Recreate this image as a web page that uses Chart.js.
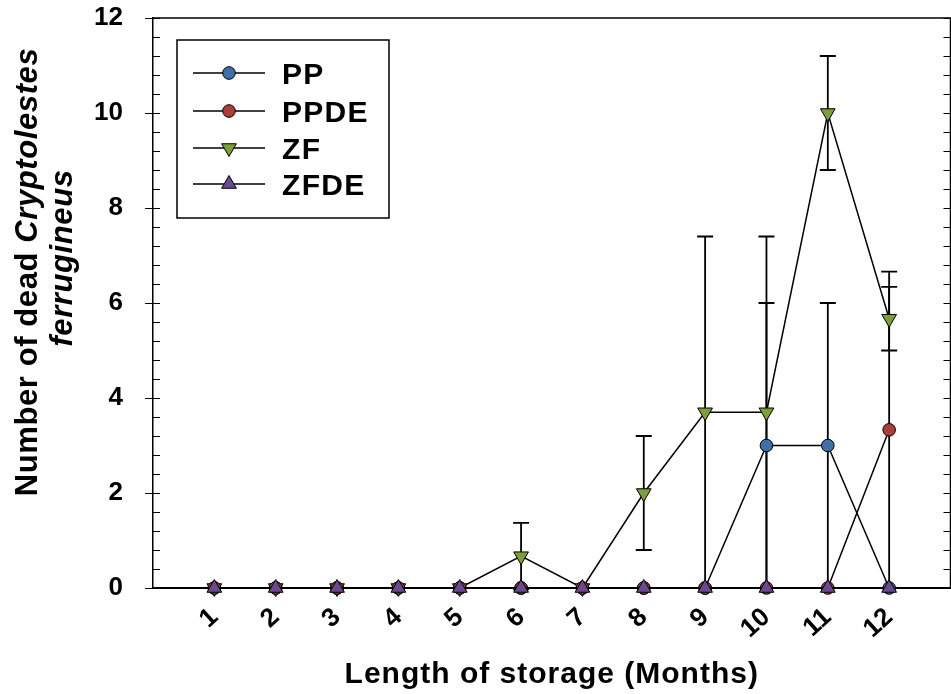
<!DOCTYPE html>
<html>
<head>
<meta charset="utf-8">
<script src="https://cdn.jsdelivr.net/npm/chart.js@4/dist/chart.umd.min.js"></script>
<style>
  html, body { margin: 0; padding: 0; background: #fff; overflow: hidden; }
  #wrap { position: relative; width: 960px; height: 694px; }
</style>
</head>
<body>
<div id="wrap"><canvas id="chart"></canvas></div>
<script>
// months of storage and mean dead insects (+/- error)
const months = [1, 2, 3, 4, 5, 6, 7, 8, 9, 10, 11, 12];
const ppMeans = [0, 0, 0, 0, 0, 0, 0, 0, 0, 3, 3, 0];
const ppErr = [0, 0, 0, 0, 0, 0, 0, 0, 0, 3, 3, 0];
const ppdeMeans = [0, 0, 0, 0, 0, 0, 0, 0, 0, 0, 0, 3.33];
const ppdeErr = [0, 0, 0, 0, 0, 0, 0, 0, 0, 0, 0, 3.33];
const zfMeans = [0, 0, 0, 0, 0, 0.67, 0, 2, 3.7, 3.7, 10, 5.67];
const zfErr = [0, 0, 0, 0, 0, 0.7, 0, 1.2, 3.7, 3.7, 1.2, 0.67];
const zfdeMeans = [0, 0, 0, 0, 0, 0, 0, 0, 0, 0, 0, 0];
const zfdeErr = [0, 0, 0, 0, 0, 0, 0, 0, 0, 0, 0, 0];
const yTicks = [0, 2, 4, 6, 8, 10, 12];

const FONT = "'Liberation Sans', Arial, sans-serif";

function series(label, means, errs, color, style, rot, order) {
    return {
        label: label,
        data: months.map((m, i) => ({ x: m, y: means[i] })),
        errors: errs,
        borderColor: '#000',
        borderWidth: 1.5,
        backgroundColor: color,
        pointBackgroundColor: color,
        pointBorderColor: '#000',
        pointBorderWidth: 1,
        pointStyle: style,
        pointRotation: rot,
        pointRadius: style === 'circle' ? 6.3 : 8.5,
        tension: 0,
        clip: false,
        order: order
    };
}

// little marker painter for the legend
function marker(ctx, ds, x, y) {
    const r = ds.pointRadius;
    ctx.save();
    ctx.fillStyle = ds.pointBackgroundColor;
    ctx.strokeStyle = '#000';
    ctx.lineWidth = 1;
    ctx.beginPath();
    if (ds.pointStyle === 'circle') {
        ctx.arc(x, y, r, 0, Math.PI * 2);
    } else {
        const s = ds.pointRotation === 180 ? -1 : 1;
        ctx.moveTo(x, y - s * r);
        ctx.lineTo(x + r * 0.866, y + s * r / 2);
        ctx.lineTo(x - r * 0.866, y + s * r / 2);
        ctx.closePath();
    }
    ctx.fill();
    ctx.stroke();
    ctx.restore();
}

const errorBars = {
    id: 'errorBars',
    beforeDatasetsDraw(chart) {
        const ctx = chart.ctx;
        const xs = chart.scales.x, ys = chart.scales.y;
        ctx.save();
        ctx.strokeStyle = '#000';
        ctx.lineWidth = 1.8;
        chart.data.datasets.forEach((ds) => {
            ds.data.forEach((p, i) => {
                const e = ds.errors[i];
                if (!e) return;
                const x = xs.getPixelForValue(p.x);
                const yt = ys.getPixelForValue(p.y + e);
                const yb = ys.getPixelForValue(p.y - e);
                ctx.beginPath();
                ctx.moveTo(x, yt); ctx.lineTo(x, yb);
                ctx.moveTo(x - 8, yt); ctx.lineTo(x + 8, yt);
                ctx.moveTo(x - 8, yb); ctx.lineTo(x + 8, yb);
                ctx.stroke();
            });
        });
        ctx.restore();
    }
};

const frame = {
    id: 'frame',
    afterDraw(chart) {
        const ctx = chart.ctx;
        const a = chart.chartArea;
        const ys = chart.scales.y;
        ctx.save();
        ctx.strokeStyle = '#000';
        ctx.lineWidth = 1.5;
        // top and right border
        ctx.beginPath();
        ctx.moveTo(a.left, a.top); ctx.lineTo(a.right, a.top); ctx.lineTo(a.right, a.bottom);
        ctx.stroke();
        // y ticks, majors cross the axis, minors point inward
        ctx.lineWidth = 1.2;
        ctx.beginPath();
        for (let v = 0; v <= 12.001; v += 0.4) {
            const y = Math.round(ys.getPixelForValue(v)) + 0.5;
            const major = Math.abs(v / 2 - Math.round(v / 2)) < 0.01;
            ctx.moveTo(a.left - (major ? 8 : 0), y); ctx.lineTo(a.left + 7, y);
            ctx.moveTo(a.right + (major ? 8 : 0), y); ctx.lineTo(a.right - 7, y);
        }
        ctx.stroke();

        // legend box
        ctx.lineWidth = 1.5;
        ctx.strokeRect(177, 40, 212, 178);
        const rows = [73, 111, 148, 184];
        ctx.font = 'bold 30px ' + FONT;
        ctx.letterSpacing = '1.3px';
        ctx.fillStyle = '#000';
        ctx.textBaseline = 'alphabetic';
        ctx.textAlign = 'left';
        chart.data.datasets.forEach((ds, i) => {
            const y = rows[i];
            ctx.beginPath();
            ctx.lineWidth = 1.5;
            ctx.moveTo(193, y); ctx.lineTo(265, y);
            ctx.stroke();
            marker(ctx, ds, 229, y);
            ctx.fillText(ds.label, 282, y + 11);
        });

        // x title
        ctx.letterSpacing = '1px';
        ctx.textAlign = 'center';
        ctx.fillText('Length of storage (Months)', (a.left + a.right) / 2, 683);

        // y title, two lines, species name in italics
        ctx.save();
        ctx.translate(37, 272);
        ctx.rotate(-Math.PI / 2);
        ctx.letterSpacing = '0.6px';
        const p1 = 'Number of dead ', p2 = 'Cryptolestes';
        ctx.font = 'bold 31px ' + FONT;
        const w1 = ctx.measureText(p1).width;
        ctx.font = 'italic bold 31px ' + FONT;
        const w2 = ctx.measureText(p2).width;
        ctx.textAlign = 'left';
        ctx.font = 'bold 31px ' + FONT;
        ctx.fillText(p1, -(w1 + w2) / 2, 0);
        ctx.font = 'italic bold 31px ' + FONT;
        ctx.fillText(p2, -(w1 + w2) / 2 + w1, 0);
        ctx.textAlign = 'center';
        ctx.fillText('ferrugineus', 14, 35);
        ctx.restore();
        ctx.restore();
    }
};

new Chart(document.getElementById('chart'), {
    type: 'line',
    data: {
        datasets: [
            series('PP', ppMeans, ppErr, '#3e6fa7', 'circle', 0, 4),
            series('PPDE', ppdeMeans, ppdeErr, '#a93f3b', 'circle', 0, 2),
            series('ZF', zfMeans, zfErr, '#7e9d3b', 'triangle', 180, 3),
            series('ZFDE', zfdeMeans, zfdeErr, '#6a4a8e', 'triangle', 0, 1)
        ]
    },
    options: {
        responsive: true,
        maintainAspectRatio: false,
        animation: false,
        layout: { padding: { left: 0, right: 7, top: 18, bottom: 0 } },
        plugins: {
            legend: { display: false },
            tooltip: { enabled: false }
        },
        scales: {
            x: {
                type: 'linear',
                min: 0,
                max: 13,
                afterBuildTicks: (s) => { s.ticks = months.map(v => ({ value: v })); },
                afterFit: (s) => { s.height = 106; s.paddingLeft = 0; s.paddingRight = 0; },
                grid: { display: false },
                border: { display: true, color: '#000', width: 2 },
                ticks: {
                    autoSkip: false,
                    minRotation: 42,
                    maxRotation: 42,
                    padding: 6,
                    color: '#000',
                    font: { family: FONT, size: 26, weight: 'bold' }
                }
            },
            y: {
                min: 0,
                max: 12,
                afterBuildTicks: (s) => { s.ticks = yTicks.map(v => ({ value: v })); },
                // keep the label padding from pushing the plot area down
                afterFit: (s) => { s.width = 153; s.paddingTop = 0; s.paddingBottom = 0; },
                grid: { display: false },
                border: { display: true, color: '#000', width: 1.5 },
                ticks: {
                    padding: 22,
                    color: '#000',
                    font: { family: FONT, size: 26, weight: 'bold' }
                }
            }
        }
    },
    plugins: [errorBars, frame]
});
</script>
</body>
</html>
